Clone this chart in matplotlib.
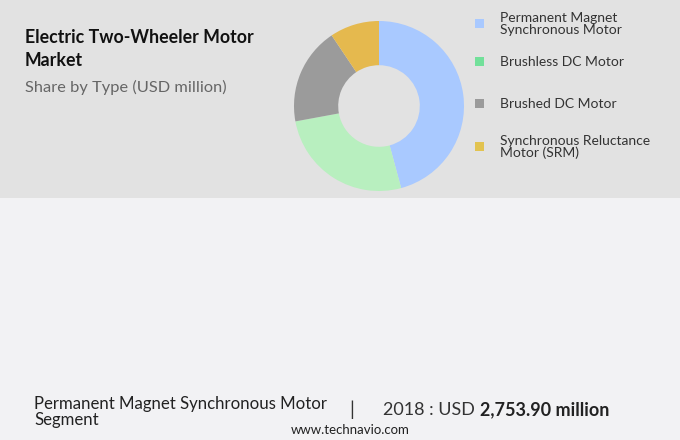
import matplotlib
matplotlib.use('Agg')
import matplotlib.pyplot as plt
from matplotlib.patches import Rectangle

# data (share, %)
types = ['Permanent Magnet\nSynchronous Motor', 'Brushless DC Motor',
         'Brushed DC Motor', 'Synchronous Reluctance\nMotor (SRM)']
shares = [45.8, 26.3, 18.5, 9.4]
wedge_colors = ['#a9c9ff', '#b8efbf', '#9b9b9b', '#e5b94e']
legend_colors = ['#a9c9ff', '#72e09a', '#9b9b9b', '#e2c350']

subtitle = 'Share by Type (USD million)'
segment = 'Permanent Magnet Synchronous Motor\nSegment'
year_txt = '2018 : USD '
value_txt = '2,753.90 million'

W, H = 680, 440
fig = plt.figure(figsize=(6.8, 4.4), dpi=100)
fig.patch.set_facecolor('#f2f2f4')
plt.rcParams['font.family'] = ['Lato', 'DejaVu Sans']

def px(x, y):
    return x / W, 1 - y / H

# grey header band
fig.patches.append(Rectangle((0, 1 - 198 / H), 1, 198 / H, transform=fig.transFigure,
                             facecolor='#e2e2e2', edgecolor='none', zorder=-10))

# donut
cx, cy, r = 379, 106, 85
ax = fig.add_axes([(cx - r) / W, 1 - (cy + r) / H, 2 * r / W, 2 * r / H])
ax.pie(shares, colors=wedge_colors, startangle=90, counterclock=False, radius=1,
       wedgeprops=dict(width=0.52, edgecolor='none'))
ax.set_xlim(-1, 1)
ax.set_ylim(-1, 1)
ax.set_aspect('equal')
ax.axis('off')
ax.set_zorder(5)

# title block
fig.text(*px(25, 43), 'Electric Two-Wheeler Motor', fontsize=12.8, fontweight='bold',
         color='#111111', va='baseline')
fig.text(*px(25, 66), 'Market', fontsize=12.8, fontweight='bold', color='#111111', va='baseline')
fig.text(*px(25, 92), subtitle, fontsize=11.8, color='#666666', va='baseline')

# legend
leg_y = [24, 62, 104, 147]
for yy, lab, col in zip(leg_y, types, legend_colors):
    fig.patches.append(Rectangle(((475) / W, 1 - (yy + 4.5) / H), 9 / W, 9 / H,
                                 transform=fig.transFigure, facecolor=col, edgecolor='none',
                                 zorder=2))
    fig.text(*px(500, yy), lab, fontsize=10, color='#333333', va='center', linespacing=0.95)

# footer
fig.text(*px(34, 412), segment, fontsize=12.1, color='#222222', va='center', linespacing=0.95)
fig.text(*px(352, 410), '|', fontsize=14, color='#333333', va='center', ha='center')
t = fig.text(*px(383, 410), year_txt, fontsize=13, color='#333333', va='center')
fig.canvas.draw()
bb = t.get_window_extent()
fig.text(bb.x1 / W, 1 - 410 / H, value_txt, fontsize=13, fontweight='bold', color='#222222', va='center')
fig.text(*px(350, 430), 'www.technavio.com', fontsize=9.5, color='#222222', ha='center', va='center')

fig.savefig('out.png', dpi=100, facecolor=fig.get_facecolor())
